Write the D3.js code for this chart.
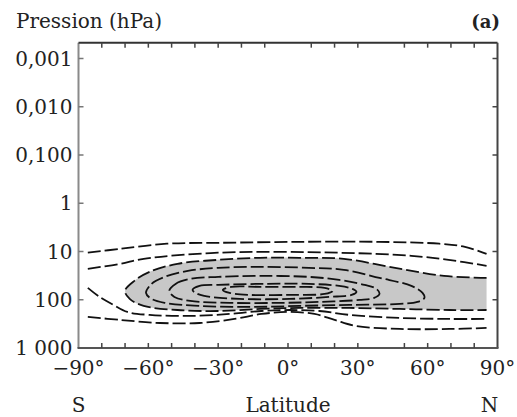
<!DOCTYPE html>
<html><head><meta charset="utf-8">
<script src="https://cdn.jsdelivr.net/npm/d3@7"></script>
<style>body{margin:0;background:#fff}svg{display:block}</style>
</head><body><svg id="c" width="517" height="417"></svg>
<script>
// ---- data (latitude in degrees, pressure in hPa) ----
const latTicksBottom = [-80,-70,-60,-50,-40,-30,-20,-10,0,10,20,30,50,60,70,80];
const latTicksTop = [-80,-70,-60,-50,-40,-30,-20,-10,10,20,30,50,60,70,80];
const latLabels = ["−90°","−60°","−30°","0°","30°","60°","90°"];
const latLabelValues = [-90,-60,-30,0,30,60,90];
const pTicks = [0.001,0.01,0.1,1,10,100,1000];
const pTickLabels = ["0,001","0,010","0,100","1","10","100","1 000"];
const pTop = 0.00047;

// outer open contours
const contourA = [[-86,10.6],[-72,8.8],[-52,6.9],[-29,6.6],[5,6.3],[39,6.3],[65,6.9],[76,8.0],[85.3,11.2]];
const contourB = [[-86,22.9],[-72,18],[-62,14.2],[-30,10.6],[22,10.6],[53,12.3],[69,14.9],[85.3,19.8]];
const contourLow2 = [[-86,56.8],[-81,87],[-75,128],[-69,179],[-59.5,206],[-42,216],[-25,197],[-11.4,171],[0.6,163],[13.5,171],[26.4,206],[48,238],[69.4,250],[85.3,250]];
const contourLow1 = [[-86,227],[-72,262],[-55,303],[-38,303],[-23,250],[-11.4,197],[0.6,179],[11.4,197],[20,262],[29,349],[48,403],[69.4,403],[85.3,384]];
// shaded region boundary (open at right edge)
const contourShade = [[85.3,35.2],[67,32],[46,21.8],[24,14.2],[5,13.5],[-12,13.5],[-30,14.9],[-47.5,18],[-59.5,26.4],[-66,40.6],[-70,65.5],[-68,96],[-62,134],[-47.5,163],[-30,171],[-12,155],[5,148],[26.4,148],[48,155],[69.4,163],[85.3,163]];
// closed inner contours
const contourC4 = [[-61,72.1],[-58.6,46.9],[-53,33.6],[-43,25.2],[-30,21.8],[-12,20.8],[9,21.8],[24,24],[39.3,35.2],[53,51.6],[57.8,72.1],[58.6,91.6],[55.6,111],[48,122],[26.4,128],[5,134],[-16.5,141],[-38,134],[-53,116],[-58.6,96]];
const contourC5 = [[-51,65.5],[-48.3,46.9],[-42,36.9],[-30,33.6],[-12,32],[9,33.6],[22,38.7],[32.9,49.2],[38,59.6],[39.3,75.7],[37,91.6],[30.7,101],[13.5,111],[-3.6,116],[-25,116],[-42,106],[-48.8,87.3]];
const contourC6 = [[-41,62.5],[-38,51.6],[-30,49.2],[-12,46.9],[9,46.9],[22,51.6],[27.7,59.6],[29.4,68.7],[27.3,79.3],[18,87.3],[0.6,96],[-20.8,96],[-36,83.2],[-39.7,72.1]];
const contourC7 = [[-28,62.5],[-24.3,54.1],[-12,54.1],[5,54.1],[15.7,56.8],[19.1,65.5],[15.7,75.7],[0.6,79.3],[-16.5,79.3],[-25.1,72.1]];

const openContours = [contourA, contourB, contourLow2, contourLow1];
const closedContours = [contourC4, contourC5, contourC6, contourC7];

// ---- drawing ----
const svg = d3.select("#c");
const L = 78.5, R = 497.5, B = 348;
const x = d3.scaleLinear().domain([-90, 90]).range([L, R]);
const y = d3.scaleLog().domain([0.001, 1000]).range([58.5, B]);
const T = y(pTop);

const serif = "'DejaVu Serif', serif";
const lineOpen = d3.line().x(d => x(d[0])).y(d => y(d[1])).curve(d3.curveCatmullRom.alpha(0.5));
const lineClosed = d3.line().x(d => x(d[0])).y(d => y(d[1])).curve(d3.curveCatmullRomClosed.alpha(0.5));

// shading
svg.append("path").attr("d", lineOpen(contourShade) + "Z")
  .attr("fill", "#c8c8c8").attr("stroke", "none");

const g = svg.append("g").attr("fill", "none").attr("stroke", "#111")
  .attr("stroke-width", 1.8).attr("stroke-dasharray", "13,4");
openContours.forEach(c => g.append("path").attr("d", lineOpen(c)));
g.append("path").attr("d", lineOpen(contourShade));
closedContours.forEach(c => g.append("path").attr("d", lineClosed(c)));

// frame
svg.append("line").attr("x1", L).attr("x2", L).attr("y1", T).attr("y2", B).attr("stroke", "#8a8a8a").attr("stroke-width", 2);
svg.append("line").attr("x1", L).attr("x2", R).attr("y1", T).attr("y2", T).attr("stroke", "#333").attr("stroke-width", 2);
svg.append("line").attr("x1", R).attr("x2", R).attr("y1", T).attr("y2", B).attr("stroke", "#444").attr("stroke-width", 2);
svg.append("line").attr("x1", L - 1).attr("x2", R + 1).attr("y1", B).attr("y2", B).attr("stroke", "#555").attr("stroke-width", 2);

// ticks
const tk = svg.append("g").attr("stroke", "#444").attr("stroke-width", 1.5);
latTicksBottom.forEach(v => tk.append("line").attr("x1", x(v)).attr("x2", x(v)).attr("y1", B).attr("y2", B - 5));
latTicksTop.forEach(v => tk.append("line").attr("x1", x(v)).attr("x2", x(v)).attr("y1", T).attr("y2", T + 5));
pTicks.slice(0, -1).forEach(v => {
  tk.append("line").attr("x1", L).attr("x2", L + 5).attr("y1", y(v)).attr("y2", y(v)).attr("stroke", "#777");
  tk.append("line").attr("x1", R).attr("x2", R - 5).attr("y1", y(v)).attr("y2", y(v));
});

// tick labels
const txt = svg.append("g").attr("font-family", serif).attr("font-size", 20).attr("fill", "#222");
pTicks.forEach((v, i) => txt.append("text").attr("x", L - 6).attr("y", y(v)).attr("dy", "0.36em")
  .attr("text-anchor", "end").text(pTickLabels[i]));
latLabelValues.forEach((v, i) => txt.append("text").attr("x", x(v)).attr("y", 375)
  .attr("text-anchor", "middle").text(latLabels[i]));
txt.append("text").attr("x", x(-90)).attr("y", 412).attr("text-anchor", "middle").text("S");
txt.append("text").attr("x", x(0)).attr("y", 412).attr("text-anchor", "middle").text("Latitude");
txt.append("text").attr("x", x(90) - 8).attr("y", 412).attr("text-anchor", "middle").text("N");
txt.append("text").attr("x", 16).attr("y", 28).text("Pression (hPa)");
txt.append("text").attr("x", 500).attr("y", 28).attr("text-anchor", "end")
  .attr("font-weight", "bold").attr("font-size", 18).text("(a)");
</script>
</body></html>
